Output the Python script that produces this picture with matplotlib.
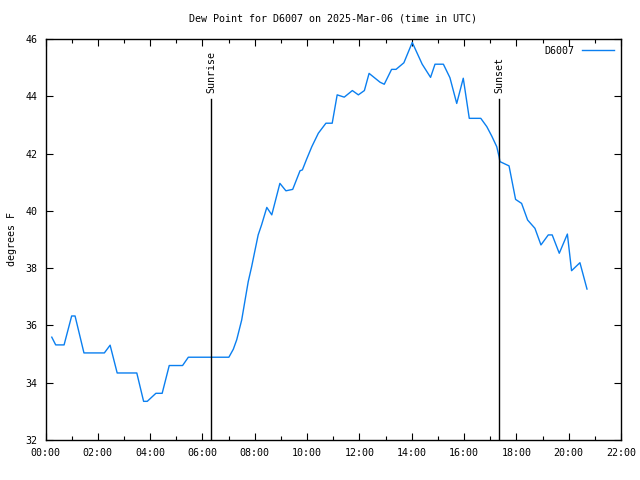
import matplotlib
matplotlib.use("Agg")
import matplotlib.pyplot as plt
from matplotlib.ticker import MultipleLocator, FuncFormatter

hours = [0.24, 0.39, 0.71, 1.00, 1.13, 1.47, 2.25, 2.47, 2.74, 3.49, 3.75, 3.89,
         4.22, 4.46, 4.73, 5.24, 5.46, 7.01, 7.18, 7.31, 7.50, 7.63, 7.75, 7.88,
         8.01, 8.13, 8.26, 8.46, 8.65, 8.96, 9.19, 9.45, 9.73, 9.82, 9.98, 10.18,
         10.43, 10.72, 10.96, 11.15, 11.42, 11.73, 11.96, 12.19, 12.37, 12.79,
         12.95, 13.23, 13.40, 13.70, 14.02, 14.15, 14.40, 14.72, 14.89, 15.21,
         15.46, 15.72, 15.97, 16.20, 16.64, 16.87, 17.06, 17.25, 17.34, 17.37,
         17.72, 17.97, 18.20, 18.43, 18.71, 18.94, 19.22, 19.37, 19.64, 19.95,
         20.11, 20.43, 20.70]
dewpoint = [35.59, 35.32, 35.32, 36.33, 36.33, 35.04, 35.04, 35.31, 34.34, 34.34,
            33.35, 33.35, 33.63, 33.63, 34.60, 34.60, 34.89, 34.89, 35.17, 35.50,
            36.19, 36.89, 37.53, 38.05, 38.63, 39.16, 39.51, 40.12, 39.86, 40.96,
            40.70, 40.75, 41.40, 41.43, 41.80, 42.24, 42.71, 43.06, 43.06, 44.05,
            43.97, 44.20, 44.05, 44.20, 44.80, 44.49, 44.42, 44.94, 44.94, 45.17,
            45.88, 45.62, 45.12, 44.66, 45.12, 45.12, 44.65, 43.75, 44.63, 43.23,
            43.23, 42.94, 42.61, 42.24, 41.89, 41.72, 41.57, 40.40, 40.26, 39.68,
            39.39, 38.81, 39.16, 39.16, 38.52, 39.19, 37.91, 38.19, 37.27]
sunrise = 6.33
sunset = 17.34
station = "D6007"
title = "Dew Point for D6007 on 2025-Mar-06 (time in UTC)"

font = "DejaVu Sans Mono"
fs = 7.2

fig = plt.figure(figsize=(6.4, 4.8), dpi=100)
ax = fig.add_axes([45.5/640, 40/480, (621-45.5)/640, (440-39)/480])
ax.plot(hours, dewpoint, color="#0a7ff0", lw=1.0, label=station)
ax.set_xlim(0, 22)
ax.set_ylim(32, 46)

for t, name in [(sunrise, "Sunrise"), (sunset, "Sunset")]:
    ax.plot([t, t], [0, 0.85], color="black", lw=1.0,
            transform=ax.get_xaxis_transform())
    ax.text(t, 0.865, name, rotation=90, ha="center", va="bottom",
            fontsize=fs, family=font, transform=ax.get_xaxis_transform())

ax.xaxis.set_major_locator(MultipleLocator(2))
ax.xaxis.set_minor_locator(MultipleLocator(1))
ax.xaxis.set_major_formatter(FuncFormatter(lambda v, p: "%02d:00" % int(round(v))))
ax.yaxis.set_major_locator(MultipleLocator(2))
ax.tick_params(which="both", direction="in", top=True, right=True, labelsize=fs,
               width=0.8, pad=6)
ax.tick_params(which="major", length=5)
ax.tick_params(which="minor", length=3)
for lab in ax.get_xticklabels() + ax.get_yticklabels():
    lab.set_family(font)
for s in ax.spines.values():
    s.set_linewidth(1.0)

ax.set_title(title, fontsize=fs, family=font, pad=12.5)
ax.set_ylabel("degrees F", fontsize=fs, family=font, labelpad=6)
leg = ax.legend(loc="upper right", frameon=False, prop={"family": font, "size": fs},
                markerfirst=False, handlelength=3.2, borderaxespad=0.3)

fig.savefig("out.png", dpi=100)
